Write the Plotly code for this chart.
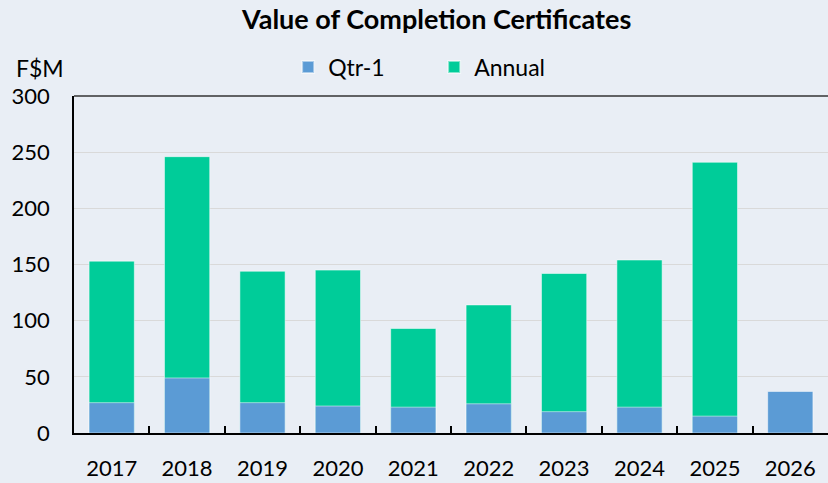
import plotly.graph_objects as go

years = ["2017", "2018", "2019", "2020", "2021", "2022", "2023", "2024", "2025", "2026"]
qtr1 = [27, 49, 27, 24, 23, 26, 19, 23, 15, 37]
annual = [153, 246, 144, 145, 93, 114, 142, 154, 241, None]
y_ticks = [0, 50, 100, 150, 200, 250, 300]

FONT = "Lato"

fig = go.Figure()
fig.add_trace(go.Bar(
    x=years, y=annual, name="Annual",
    marker=dict(color="#00CC99", line=dict(color="rgba(255,255,255,0.5)", width=1)),
    legendrank=2,
))
fig.add_trace(go.Bar(
    x=years, y=qtr1, name="Qtr-1",
    marker=dict(color="#5B9BD5", line=dict(color="rgba(255,255,255,0.5)", width=1)),
    legendrank=1,
))

fig.update_layout(
    width=828, height=483,
    barmode="overlay", bargap=0.4,
    paper_bgcolor="#E9EEF5", plot_bgcolor="rgba(0,0,0,0)",
    margin=dict(l=74, r=0, t=96, b=50, autoexpand=False),
    font=dict(family=FONT, size=22, color="#000000"),
    legend=dict(orientation="h", x=0.284, xanchor="left", y=1.086, yanchor="middle",
                font=dict(family=FONT, size=23), bgcolor="rgba(0,0,0,0)",
                itemwidth=30, entrywidth=101, itemsizing="constant"),
    showlegend=True,
)
fig.update_xaxes(
    showline=True, linecolor="#000000", linewidth=2,
    ticks="inside", tickson="boundaries", ticklen=7, tickcolor="#000000", tickwidth=1.5,
    ticklabelstandoff=15, showgrid=False,
)
fig.update_yaxes(
    range=[0, 300], tickvals=y_ticks,
    showline=True, linecolor="#000000", linewidth=1.5,
    showgrid=True, gridcolor="#D9D9D9", gridwidth=1,
    ticks="", ticklabelstandoff=18, zeroline=False,
)
fig.add_shape(type="line", xref="paper", yref="paper", x0=0, x1=1, y0=1, y1=1,
              line=dict(color="#333333", width=1.5))
fig.add_annotation(text="<b>Value of Completion Certificates</b>", xref="paper", yref="paper",
                   x=0.48, y=1.231, xanchor="center", yanchor="middle", showarrow=False,
                   font=dict(family=FONT, size=27, color="#000000"))
fig.add_annotation(text="F$M", xref="paper", yref="paper", x=-0.08, y=1.083,
                   xanchor="left", yanchor="middle", showarrow=False,
                   font=dict(family=FONT, size=23))

fig.write_html(
    "out.html",
    config={"displayModeBar": False},
    post_script="document.body.style.margin='0';document.body.style.background='#E9EEF5';",
)
